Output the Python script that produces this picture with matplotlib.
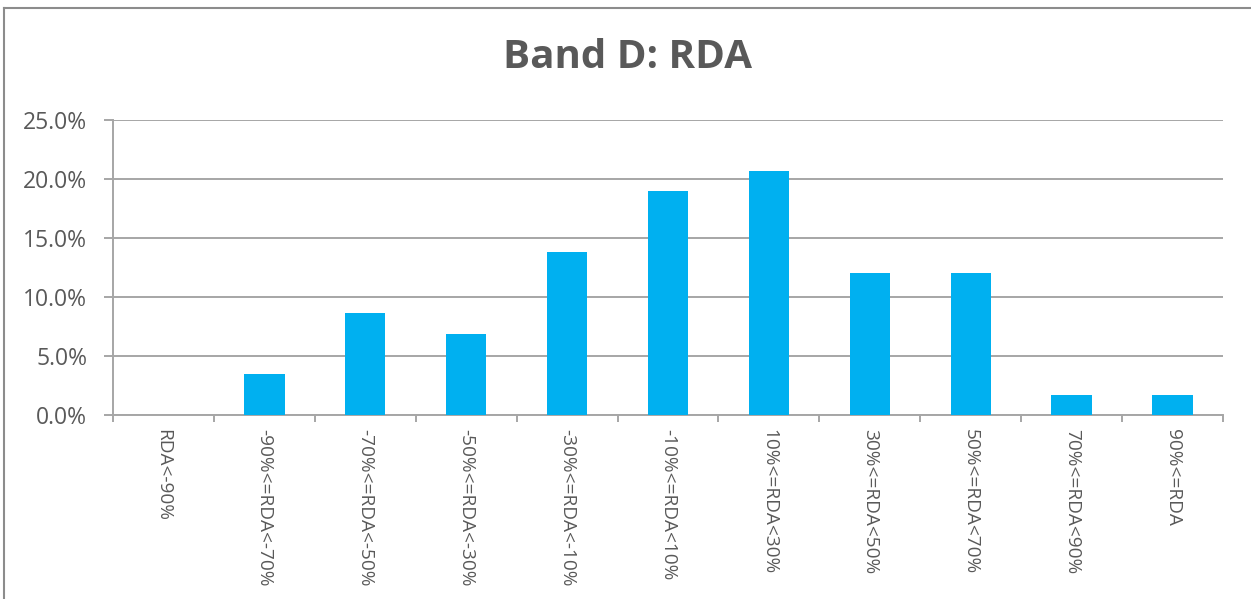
import matplotlib
matplotlib.use("Agg")
import matplotlib.pyplot as plt
from matplotlib.lines import Line2D
from matplotlib.ticker import FuncFormatter, MultipleLocator

categories = ["RDA<-90%", "-90%<=RDA<-70%", "-70%<=RDA<-50%", "-50%<=RDA<-30%",
              "-30%<=RDA<-10%", "-10%<=RDA<10%", "10%<=RDA<30%", "30%<=RDA<50%",
              "50%<=RDA<70%", "70%<=RDA<90%", "90%<=RDA"]
shares = [0.0, 3.45, 8.62, 6.90, 13.79, 18.97, 20.69, 12.07, 12.07, 1.72, 1.72]
title = "Band D: RDA"

plt.rcParams["font.family"] = ["Open Sans", "DejaVu Sans"]
text_color = "#595959"
grid_color = "#A6A6A6"

fig = plt.figure(figsize=(12.51, 5.99), dpi=100)
ax = fig.add_axes([113 / 1251, 1 - 415 / 599, 1110 / 1251, 295 / 599])

x = list(range(len(categories)))
ax.bar(x, shares, width=0.4, color="#00B0F0", zorder=3)

ax.set_xlim(-0.5, len(categories) - 0.5)
ax.set_ylim(0, 25)
ax.yaxis.set_major_locator(MultipleLocator(5))
ax.yaxis.set_major_formatter(FuncFormatter(lambda v, _: f"{v:.1f}%"))
ax.grid(axis="y", color=grid_color, linewidth=1.4, zorder=0)

ax.set_xticks([i - 0.5 for i in range(len(categories) + 1)], minor=False)
ax.set_xticklabels([])
ax.set_xticks(x, minor=True)
ax.set_xticklabels(categories, minor=True, rotation=-90, fontsize=13.7,
                   color=text_color, va="top", ha="center")
ax.tick_params(axis="x", which="major", length=5, width=1.4, color=grid_color)
ax.tick_params(axis="x", which="minor", length=0, pad=10)
ax.tick_params(axis="y", length=6.5, width=1.4, color=grid_color,
               labelsize=16.5, labelcolor=text_color, pad=12)

for side in ("top", "right"):
    ax.spines[side].set_visible(False)
for side in ("left", "bottom"):
    ax.spines[side].set_color(grid_color)
    ax.spines[side].set_linewidth(1.4)

fig.text(628 / 1251, 1 - 58 / 599, title, ha="center", va="center",
         fontsize=29, fontweight="bold", color=text_color)

# chart frame
fig.add_artist(Line2D([3.5 / 1251, 3.5 / 1251], [0, 1 - 8 / 599],
                      transform=fig.transFigure, color="#8C8C8C", linewidth=1.5))
fig.add_artist(Line2D([3.5 / 1251, 1], [1 - 8 / 599, 1 - 8 / 599],
                      transform=fig.transFigure, color="#8C8C8C", linewidth=1.5))

fig.savefig("out.png", dpi=100, facecolor="white")
